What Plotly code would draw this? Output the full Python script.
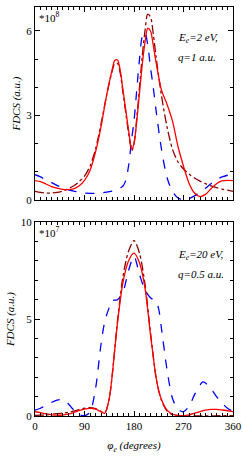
import plotly.graph_objects as go
from plotly.subplots import make_subplots

# ---- top panel data (x in degrees, y in units of 1e-8 a.u.) ----
x_top = [0, 10, 20, 30, 40, 50, 60, 70, 80, 90, 100, 110, 120, 130, 140, 145, 150, 155, 160, 165, 170, 176,
         180, 185, 190, 195, 200, 205, 210, 215, 220, 230, 240, 250, 260, 270, 280, 290, 300, 310, 320, 330, 340, 350, 360]
red_top = [0.69, 0.65, 0.57, 0.48, 0.42, 0.38, 0.37, 0.40, 0.50, 0.70, 1.05, 1.7, 2.6, 3.7, 4.6, 4.95, 4.97, 4.6, 3.9, 3.2, 2.5, 1.8,
           2.0, 2.8, 3.8, 4.8, 5.6, 6.1, 6.0, 5.5, 4.9, 3.9, 3.4, 2.8, 1.9, 1.2, 0.6, 0.25, 0.12, 0.2, 0.4, 0.58, 0.68, 0.70, 0.69]
brown_top = [0.31, 0.27, 0.25, 0.25, 0.27, 0.32, 0.40, 0.50, 0.65, 0.85, 1.2, 1.8, 2.7, 3.7, 4.55, 4.85, 4.85, 4.5, 3.8, 3.1, 2.4, 1.75,
             2.0, 2.9, 4.0, 5.1, 6.0, 6.6, 6.5, 5.9, 5.1, 3.7, 2.6, 1.8, 1.35, 1.1, 0.92, 0.78, 0.67, 0.58, 0.5, 0.44, 0.39, 0.35, 0.31]
blue_top = [0.90, 0.82, 0.72, 0.62, 0.52, 0.44, 0.37, 0.32, 0.28, 0.25, 0.24, 0.24, 0.25, 0.28, 0.32, 0.35, 0.38, 0.43, 0.50, 0.7, 1.2, 2.2,
            2.8, 3.9, 5.0, 5.8, 5.95, 5.5, 4.7, 4.0, 3.2, 1.8, 0.8, 0.3, 0.07, 0.01, 0.05, 0.15, 0.28, 0.42, 0.58, 0.72, 0.82, 0.88, 0.92]

# ---- bottom panel data (x in degrees, y in units of 1e-7 a.u.) ----
x_bot = [0, 10, 20, 30, 40, 50, 60, 70, 80, 90, 100, 110, 120, 127, 135, 140, 150, 160, 170, 180, 190, 200, 210, 220, 225,
         230, 240, 250, 260, 270, 280, 290, 300, 305, 310, 320, 330, 340, 350, 360]
red_bot = [0.22, 0.17, 0.11, 0.06, 0.04, 0.05, 0.10, 0.18, 0.28, 0.36, 0.39, 0.35, 0.22, 0.14, 0.9, 2.0, 4.8, 6.9, 8.0, 8.4, 7.9, 6.6, 4.2, 2.0, 1.3,
           0.85, 0.3, 0.1, 0.03, 0.02, 0.06, 0.14, 0.23, 0.27, 0.30, 0.34, 0.34, 0.31, 0.27, 0.22]
brown_bot = [0.03, 0.04, 0.06, 0.09, 0.12, 0.15, 0.19, 0.25, 0.33, 0.40, 0.43, 0.38, 0.24, 0.17, 0.9, 2.0, 4.9, 7.2, 8.5, 9.05, 8.4, 6.8, 4.3, 2.0, 1.3,
             0.8, 0.25, 0.07, 0.02, 0.01, 0.01, 0.01, 0.01, 0.01, 0.01, 0.01, 0.01, 0.02, 0.02, 0.02]
blue_bot = [0.30, 0.40, 0.55, 0.70, 0.82, 0.85, 0.65, 0.32, 0.08, 0.02, 0.2, 1.4, 3.7, 4.9, 5.6, 5.95, 6.0, 6.4, 7.5, 8.24, 7.3, 6.5, 6.1, 5.9, 5.5,
            4.5, 2.4, 0.9, 0.35, 0.22, 0.5, 1.1, 1.6, 1.76, 1.7, 1.4, 1.0, 0.68, 0.4, 0.25]

x_ticks = [0, 90, 180, 270, 360]

FONT = "Liberation Serif, Times New Roman, serif"

fig = make_subplots(rows=2, cols=1, vertical_spacing=0.0)

def add(x, y, color, dash, row, width=1.3):
    fig.add_trace(go.Scatter(x=x, y=y, mode="lines",
                             line=dict(color=color, dash=dash, width=width, shape="spline", smoothing=0.8),
                             showlegend=False, hoverinfo="skip"), row=row, col=1)

add(x_top, blue_top, "#0000FF", "dash", 1)
add(x_top, brown_top, "#8B0000", "dashdot", 1)
add(x_top, red_top, "#FF0000", "solid", 1)
add(x_bot, blue_bot, "#0000FF", "dash", 2)
add(x_bot, brown_bot, "#8B0000", "dashdot", 2)
add(x_bot, red_bot, "#FF0000", "solid", 2)

axis_common = dict(showgrid=False, zeroline=False, showline=True, linecolor="black", linewidth=1,
                   mirror="allticks", ticks="inside", ticklen=5, tickcolor="black", automargin=False,
                   tickfont=dict(family=FONT, size=11, color="black"))

fig.update_xaxes(range=[0, 360], tickvals=x_ticks, **axis_common,
                 minor=dict(dtick=10, ticklen=3, ticks="inside", tickcolor="black", showgrid=False))
fig.update_xaxes(showticklabels=False, row=1, col=1)
fig.update_xaxes(title=dict(text="<i>φ<sub>e</sub> (degrees)</i>", font=dict(family=FONT, size=11, color="black"), standoff=10),
                 row=2, col=1)

fig.update_yaxes(range=[0, 6.85], tickvals=[0, 3, 6], row=1, col=1, **axis_common,
                 minor=dict(dtick=1, ticklen=3, ticks="inside", tickcolor="black", showgrid=False))
fig.update_yaxes(range=[0, 10], tickvals=[0, 5, 10], row=2, col=1, **axis_common,
                 minor=dict(dtick=1, ticklen=3, ticks="inside", tickcolor="black", showgrid=False))
for r in (1, 2):
    fig.update_yaxes(title=dict(text="<i>FDCS (a.u.)</i>", font=dict(family=FONT, size=11, color="black"), standoff=3),
                     row=r, col=1)

fig.update_layout(
    width=243, height=460,
    margin=dict(l=35, r=10, t=7, b=44),
    paper_bgcolor="white", plot_bgcolor="white",
    font=dict(family=FONT, size=11, color="black"),
    yaxis=dict(domain=[0.528, 1.0]),
    yaxis2=dict(domain=[0.0, 0.474]),
)

ann = dict(showarrow=False, font=dict(family=FONT, size=11, color="black"), xanchor="left", yanchor="middle")
fig.add_annotation(text="*10<sup>8</sup>", xref="x domain", yref="y domain", x=0.01, y=0.95, **ann)
fig.add_annotation(text="*10<sup>7</sup>", xref="x2 domain", yref="y2 domain", x=0.01, y=0.95, **ann)
fig.add_annotation(text="<i>E<sub>e</sub>=2 eV,</i>", xref="x domain", yref="y domain", x=0.71, y=0.84, **ann)
fig.add_annotation(text="<i>q=1 a.u.</i>", xref="x domain", yref="y domain", x=0.71, y=0.74, **ann)
fig.add_annotation(text="<i>E<sub>e</sub>=20 eV,</i>", xref="x2 domain", yref="y2 domain", x=0.71, y=0.83, **ann)
fig.add_annotation(text="<i>q=0.5 a.u.</i>", xref="x2 domain", yref="y2 domain", x=0.71, y=0.73, **ann)

fig.write_html("out.html", config={"displayModeBar": False},
               post_script="document.body.style.margin='0';document.body.style.overflow='hidden';")
